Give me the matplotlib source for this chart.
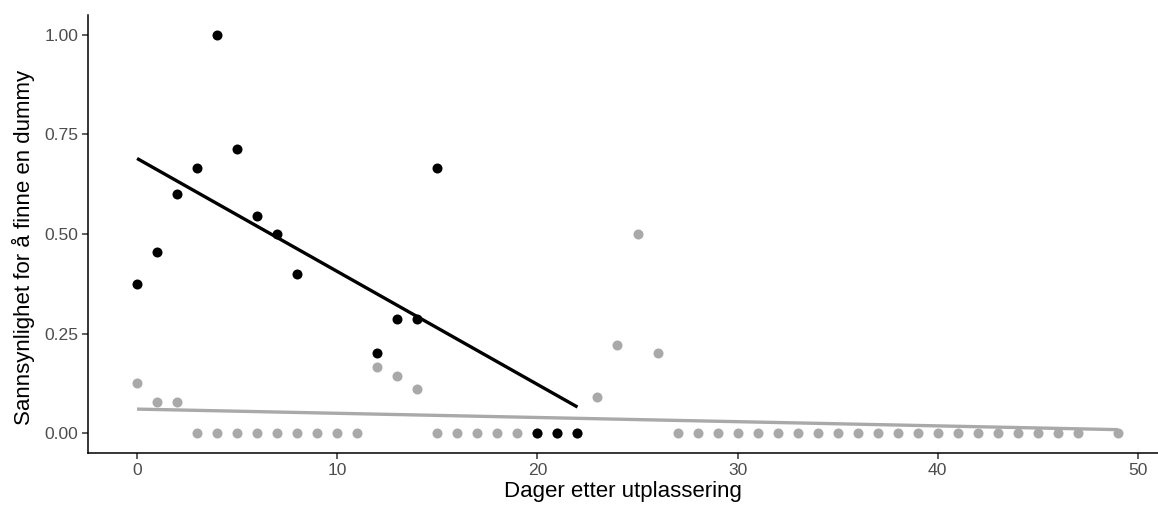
import matplotlib.pyplot as plt
import numpy as np

plt.rcParams['font.family'] = ['Liberation Sans', 'DejaVu Sans']

# dager og andel funnet, to grupper
dag_svart = [0, 1, 2, 3, 4, 5, 6, 7, 8, 12, 13, 14, 15, 20, 21, 22]
p_svart = [0.375, 0.4545, 0.6, 0.6667, 1.0, 0.7143, 0.5455, 0.5, 0.4,
           0.2, 0.2857, 0.2857, 0.6667, 0.0, 0.0, 0.0]

dag_graa = list(range(0, 48)) + [49]
p_graa = [0.125, 0.0769, 0.0769, 0, 0, 0, 0, 0, 0, 0, 0, 0,
          0.1667, 0.1429, 0.1111, 0, 0, 0, 0, 0, 0, 0, 0,
          0.0909, 0.2222, 0.5, 0.2] + [0] * 21 + [0]

svart = 'black'
graa = '#A9A9A9'

fig = plt.figure(figsize=(11.58, 5.07), dpi=100)
ax = fig.add_axes([0.076, 0.1065, 0.924, 0.8639])

ax.scatter(dag_graa, p_graa, s=52, color=graa, linewidths=0, zorder=2)
ax.scatter(dag_svart, p_svart, s=52, color=svart, linewidths=0, zorder=3)

# lineaer tilpasning (som geom_smooth(method='lm'))
for x, y, c in [(dag_graa, p_graa, graa), (dag_svart, p_svart, svart)]:
    x = np.array(x, dtype=float)
    y = np.array(y, dtype=float)
    k, m = np.polyfit(x, y, 1)
    xs = np.array([x.min(), x.max()])
    ax.plot(xs, k * xs + m, color=c, lw=2.4, zorder=4, solid_capstyle='butt')

ax.set_xlim(-2.45, 51.0)
ax.set_ylim(-0.05, 1.05)
ax.set_xticks([0, 10, 20, 30, 40, 50])
ax.set_yticks([0, 0.25, 0.5, 0.75, 1.0])
ax.set_yticklabels(['0.00', '0.25', '0.50', '0.75', '1.00'])

for s in ['top', 'right']:
    ax.spines[s].set_visible(False)
for s in ['left', 'bottom']:
    ax.spines[s].set_linewidth(1.1)
ax.tick_params(axis='both', length=4, width=1.1, colors='#333333',
               labelcolor='#4D4D4D', labelsize=12.6, pad=3)

ax.set_xlabel('Dager etter utplassering', fontsize=16, labelpad=2)
ax.set_ylabel('Sannsynlighet for å finne en dummy', fontsize=16)
ax.yaxis.set_label_coords(-0.05, 0.47)

fig.savefig('out.png', dpi=100)
